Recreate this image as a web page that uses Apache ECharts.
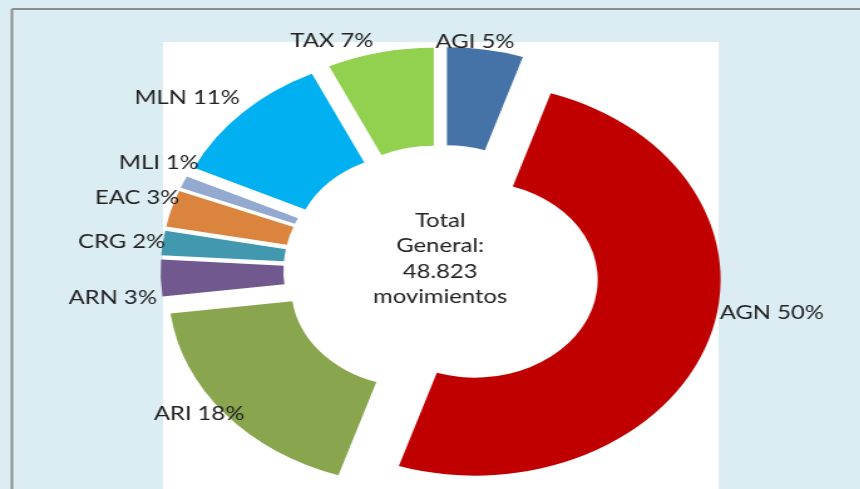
<!DOCTYPE html>
<html lang="es">
<head>
    <meta charset="UTF-8">
    <title>Movimientos</title>
    <style>
        html, body { margin: 0; padding: 0; overflow: hidden; background: #fff; }
        /* the reference is stretched horizontally, so the chart is drawn narrow and scaled */
        #main { width: 686px; height: 489px; transform: scaleX(1.254); transform-origin: 0 0; }
    </style>
</head>
<body>
<div id="main"></div>
<script src="https://cdn.jsdelivr.net/npm/echarts@6/dist/echarts.min.js"></script>
<script>
    var names = ['AGI', 'AGN', 'ARI', 'ARN', 'CRG', 'EAC', 'MLI', 'MLN', 'TAX'];
    var percents = [5, 50, 18, 3, 2, 3, 1, 11, 7];
    var colors = ['#4572a7', '#c00000', '#89a54e', '#71588f', '#4198af', '#db843d', '#93a9cf', '#00b0f0', '#92d050'];
    var centerText = 'Total\nGeneral:\n48.823\nmovimientos';

    // nudges so the labels sit where Excel put them (px, before the horizontal stretch)
    var labelShift = {
        AGI: [-45, -6], AGN: [2, -28], ARI: [22, -1], ARN: [4, 20], CRG: [9, -1],
        EAC: [13, -10], MLI: [19, -18], MLN: [4, -13], TAX: [0, -10]
    };

    var pieData = [];
    for (var i = 0; i < names.length; i++) {
        pieData.push({
            name: names[i],
            value: percents[i],
            selected: true,
            itemStyle: { color: colors[i] }
        });
    }

    var myChart = echarts.init(document.getElementById('main'));

    var option = {
        animation: false,
        backgroundColor: '#dbedf3',
        graphic: [
            // white plot area
            { type: 'rect', z: -10, shape: { x: 130, y: 42, width: 443, height: 460 }, style: { fill: '#ffffff' } },
            // frame lines
            { type: 'line', z: -5, shape: { x1: 9.5, y1: 9, x2: 700, y2: 9 }, style: { stroke: '#8c8c8c', lineWidth: 2 } },
            { type: 'line', z: -5, shape: { x1: 9.5, y1: 9, x2: 9.5, y2: 489 }, style: { stroke: '#8c8c8c', lineWidth: 2 } },
            {
                type: 'text',
                x: 351,
                y: 208,
                style: {
                    text: centerText,
                    align: 'center',
                    verticalAlign: 'top',
                    fill: '#222',
                    font: '19px Lato',
                    lineHeight: 25.5
                }
            }
        ],
        series: [
            {
                type: 'pie',
                center: [352, 271],
                radius: [98, 196],
                startAngle: 90,
                clockwise: true,
                selectedMode: 'multiple',
                selectedOffset: 28,
                data: pieData,
                label: {
                    show: true,
                    position: 'outside',
                    formatter: '{b} {c}%',
                    color: '#222',
                    fontFamily: 'Lato',
                    fontSize: 19
                },
                labelLine: { show: false, length: 2, length2: 0 },
                labelLayout: function (params) {
                    var s = labelShift[names[params.dataIndex]];
                    return { dx: s[0], dy: s[1] };
                },
                select: { itemStyle: { borderWidth: 0 } },
                emphasis: { disabled: true }
            }
        ]
    };

    myChart.setOption(option);
</script>
</body>
</html>
